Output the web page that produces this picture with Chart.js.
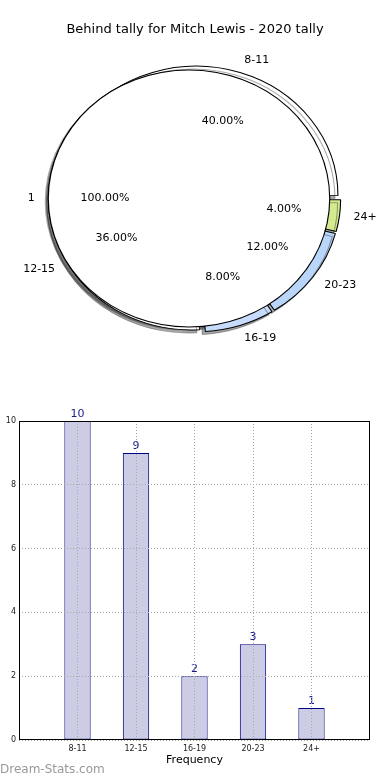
<!DOCTYPE html>
<html>
<head>
<meta charset="utf-8">
<script src="https://cdn.jsdelivr.net/npm/chart.js@4.4.0/dist/chart.umd.min.js"></script>
<style>
  body { margin:0; background:#fff; }
  #wrap { position:relative; width:390px; height:780px; overflow:hidden; }
  #pieA, #pieB { position:absolute; left:0; top:0; }
  #pieB { z-index:2; }
  #bars { position:absolute; left:-14px; top:400px; }
  #mark { position:absolute; left:0; top:762px; font:12px 'DejaVu Sans'; color:#999; }
</style>
</head>
<body>
<div id="wrap">
  <canvas id="pieA" width="390" height="400"></canvas>
  <canvas id="pieB" width="390" height="400"></canvas>
  <canvas id="bars" width="404" height="380"></canvas>
  <div id="mark">Dream-Stats.com</div>
</div>
<script>
var chartTitle = 'Behind tally for Mitch Lewis - 2020 tally';
var categories = ['8-11', '12-15', '16-19', '20-23', '24+'];
var counts = [10, 9, 2, 3, 1];
var sliceColours = ['#ffffff', '#ffffff', '#c7dcfc', '#b9d5fa', '#d3ea8e'];
var wholeLabels = ['1'];
var wholeCounts = [1];
var yTicks = [0, 2, 4, 6, 8, 10];

Chart.defaults.font.family = 'DejaVu Sans';

var R = 128,      // pie radius (vertical)
    SX = 1.095,   // pie is squashed into an ellipse
    EXPLODE = 5;

// chart.js goes clockwise, the original counter clockwise from 3 o'clock
var aLabels = categories.slice().reverse(),
    aCounts = counts.slice().reverse(),
    aColours = sliceColours.slice().reverse();

var pieA = null, pieB = null;

function $each(arr, fn){ for (var i = 0; i < arr.length; i++) fn(arr[i], i); }

function squash(ctx, cx, cy){
  ctx.translate(cx, cy);
  ctx.scale(SX, 1);
  ctx.translate(-cx, -cy);
}

function setShadow(ctx){
  ctx.shadowColor = 'rgba(40,40,40,0.4)';
  ctx.shadowOffsetX = -3;
  ctx.shadowOffsetY = 3;
  ctx.shadowBlur = 0;
}

function drawSliceLabels(ctx, chart, names, values, explode){
  var arcs = chart.getDatasetMeta(0).data;
  var total = 0;
  values.forEach(function(v){ total += v; });
  ctx.font = '11px "DejaVu Sans"';
  ctx.fillStyle = '#000';
  ctx.textBaseline = 'middle';
  $each(arcs, function(el, i){
    var mid = (el.startAngle + el.endAngle) / 2,
        c = Math.cos(mid), s = Math.sin(mid);
    var d = explode + 1.1 * R;
    ctx.textAlign = c > 0 ? 'left' : 'right';
    ctx.fillText(names[i], el.x + d * c * SX, el.y + d * s);
    d = explode + 0.6 * R;
    ctx.textAlign = 'center';
    ctx.fillText((100 * values[i] / total).toFixed(2) + '%', el.x + d * c * SX, el.y + d * s);
  });
}

// top pie: one white slice, also draws every label on top
var topPlugin = {
  id: 'topPie',
  beforeDatasetsDraw: function(chart){
    var el = chart.getDatasetMeta(0).data[0];
    chart.ctx.save();
    squash(chart.ctx, el.x, el.y);
  },
  afterDatasetsDraw: function(chart){
    var ctx = chart.ctx, el = chart.getDatasetMeta(0).data[0];
    // fill once more without border so the 100% wedge has no radius line
    var opts = el.options;
    el.options = Object.assign({}, opts, { borderWidth: 0 });
    el.draw(ctx);
    el.options = opts;
    ctx.restore();
  },
  afterDraw: function(chart){
    var ctx = chart.ctx;
    ctx.save();
    if (pieA) drawSliceLabels(ctx, pieA, aLabels, aCounts, EXPLODE);
    drawSliceLabels(ctx, chart, wholeLabels, wholeCounts, 0);
    ctx.restore();
  }
};

// bottom pie: exploded slices, shadows go underneath
var bottomPlugin = {
  id: 'bottomPie',
  beforeDatasetsDraw: function(chart){
    var ctx = chart.ctx;
    if (pieB){
      var b = pieB.getDatasetMeta(0).data[0];
      ctx.save();
      setShadow(ctx);
      squash(ctx, b.x, b.y);
      b.draw(ctx);
      ctx.restore();
    }
    var a = chart.getDatasetMeta(0).data[0];
    ctx.save();
    setShadow(ctx);
    squash(ctx, a.x, a.y);
  },
  afterDatasetsDraw: function(chart){
    chart.ctx.restore();
  }
};

pieB = new Chart(document.getElementById('pieB'), {
  type: 'pie',
  data: {
    labels: wholeLabels,
    datasets: [{ data: wholeCounts, backgroundColor: '#ffffff', borderColor: '#000', borderWidth: 2 }]
  },
  options: {
    responsive: false, animation: false, devicePixelRatio: 1,
    rotation: 90, radius: R,
    layout: { padding: { left: 0, right: 12, top: 0, bottom: 3 } },
    plugins: { legend: { display: false }, tooltip: { enabled: false } }
  },
  plugins: [topPlugin]
});

var total = 0;
aCounts.forEach(function(v){ total += v; });

pieA = new Chart(document.getElementById('pieA'), {
  type: 'pie',
  data: {
    labels: aLabels,
    datasets: [{
      data: aCounts,
      backgroundColor: aColours,
      borderColor: '#000',
      borderWidth: 1,
      // chart.js offset = shift/4 plus radius growth, aim for an even outward push
      offset: function(ctx){
        var circ = 2 * Math.PI * aCounts[ctx.dataIndex] / total;
        var fix = 1 - Math.sin(Math.min(Math.PI, circ));
        return 4 * EXPLODE / (1 + fix);
      }
    }]
  },
  options: {
    responsive: false, animation: false, devicePixelRatio: 1,
    rotation: 90, radius: R,
    layout: { padding: { left: 0, right: 0, top: 0, bottom: 39.6 } },
    plugins: {
      legend: { display: false }, tooltip: { enabled: false },
      title: {
        display: true, text: chartTitle, color: '#000',
        font: { family: 'DejaVu Sans', size: 13, weight: 'normal' },
        padding: { top: 22, bottom: 0 }
      }
    }
  },
  plugins: [bottomPlugin]
});
pieB.draw();

// bar chart
var boxPlugin = {
  id: 'box',
  afterDatasetsDraw: function(chart){
    var ctx = chart.ctx;
    var bars = chart.getDatasetMeta(0).data;
    ctx.save();
    ctx.font = '11px "DejaVu Sans"';
    ctx.fillStyle = '#1a1a8c';
    ctx.textAlign = 'center';
    ctx.textBaseline = 'alphabetic';
    $each(bars, function(bar, i){
      ctx.fillText(String(counts[i]), bar.x, bar.y - 4);
    });
    ctx.restore();
  },
  afterDraw: function(chart){
    var ctx = chart.ctx, a = chart.chartArea;
    ctx.save();
    ctx.strokeStyle = '#000';
    ctx.lineWidth = 1;
    ctx.strokeRect(Math.round(a.left) + 0.5, Math.round(a.top) + 0.5,
      Math.round(a.right - a.left) - 1, Math.round(a.bottom - a.top) - 1);
    ctx.restore();
  }
};

var barChart = new Chart(document.getElementById('bars'), {
  type: 'bar',
  data: {
    datasets: [{
      data: counts.map(function(v, i){ return { x: i + 1, y: v }; }),
      backgroundColor: '#ccccE5',
      borderColor: '#000080',
      borderWidth: 1,
      borderSkipped: false,
      barPercentage: 0.45,
      categoryPercentage: 1
    }]
  },
  options: {
    responsive: false, animation: false, devicePixelRatio: 1,
    layout: { padding: { left: 0, right: 20, top: 21, bottom: 0 } },
    plugins: { legend: { display: false }, tooltip: { enabled: false } },
    scales: {
      x: {
        type: 'linear', min: 0, max: categories.length + 1, offset: false,
        afterBuildTicks: function(scale){
          scale.ticks = categories.map(function(c, i){ return { value: i + 1 }; });
        },
        afterFit: function(scale){ scale.height = 40; },
        ticks: {
          callback: function(v){ return categories[v - 1]; },
          font: { size: 8 }, color: '#222', padding: 4, maxRotation: 0, autoSkip: false
        },
        grid: { color: '#a8a8a8', drawTicks: false, offset: false, z: 1 },
        border: { display: false, dash: [1, 2] },
        title: { display: true, text: 'Frequency', color: '#000', font: { size: 11 }, padding: { top: 0, bottom: 13 } }
      },
      y: {
        min: yTicks[0], max: yTicks[yTicks.length - 1],
        afterBuildTicks: function(scale){
          scale.ticks = yTicks.map(function(v){ return { value: v }; });
        },
        afterFit: function(scale){ scale.width = 33; },
        ticks: { font: { size: 8 }, color: '#222', padding: 3 },
        grid: { color: '#a8a8a8', drawTicks: false, z: 1 },
        border: { display: false, dash: [1, 2] },
        title: { display: true, text: 'Occurrences', color: '#000', font: { size: 10 }, padding: { top: 5.5, bottom: 0 } }
      }
    }
  },
  plugins: [boxPlugin]
});
</script>
</body>
</html>
